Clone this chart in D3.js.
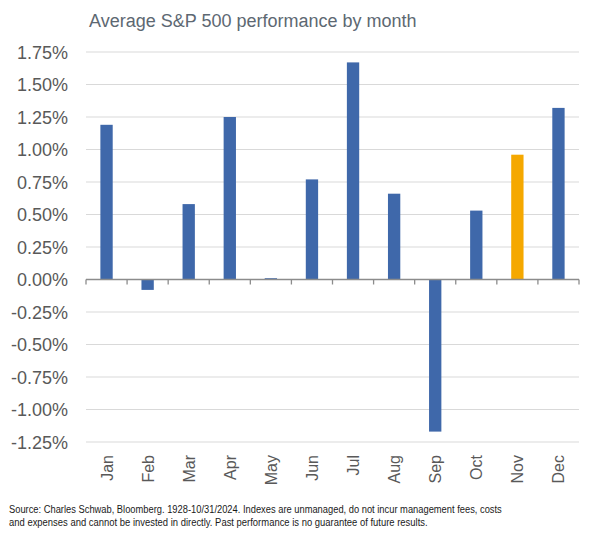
<!DOCTYPE html>
<html><head><meta charset="utf-8">
<script src="https://cdn.jsdelivr.net/npm/d3@7"></script>
<style>body{margin:0;background:#fff}svg{display:block}</style>
</head><body>
<svg id="c" width="600" height="547"></svg>
<script>
const months = ["Jan","Feb","Mar","Apr","May","Jun","Jul","Aug","Sep","Oct","Nov","Dec"];
const values = [1.19,-0.08,0.58,1.25,0.01,0.77,1.67,0.66,-1.17,0.53,0.96,1.32];
const highlight = ["Nov"];
const yTicks = [1.75,1.5,1.25,1.0,0.75,0.5,0.25,0,-0.25,-0.5,-0.75,-1.0,-1.25];
const title = "Average S&P 500 performance by month";
const footnote = [
 "Source: Charles Schwab, Bloomberg. 1928-10/31/2024. Indexes are unmanaged, do not incur management fees, costs",
 "and expenses and cannot be invested in directly. Past performance is no guarantee of future results."
];

const svg = d3.select("#c");
const L = 86, R = 579, T = 52, B = 442;
const x = d3.scaleBand().domain(months).range([L, R]).paddingInner(0.7).paddingOuter(0.35);
const xEdge = d3.scaleLinear().domain([0, 12]).range([L, R]);
const y = d3.scaleLinear().domain([-1.25, 1.75]).range([B, T]);

svg.append("text").attr("x", 89).attr("y", 27).attr("font-family", "Liberation Sans, Arial, sans-serif")
  .attr("font-size", 18).attr("fill", "#5d6872").text(title);

// gridlines
svg.append("g").selectAll("line").data(yTicks.filter(d => d !== 0)).join("line")
  .attr("x1", L).attr("x2", R).attr("y1", d => y(d)).attr("y2", d => y(d))
  .attr("stroke", "#d9d9d9").attr("stroke-width", 1);

// y labels
const yAxis = d3.axisLeft(y).tickValues(yTicks).tickSize(0).tickPadding(18)
  .tickFormat(d => d3.format(".2f")(d).replace("−","-") + "%");
const ga = svg.append("g").attr("transform", `translate(${L},0)`).call(yAxis);
ga.select(".domain").remove();
ga.selectAll("text").attr("font-family", "Liberation Sans, Arial, sans-serif")
  .attr("font-size", 18).attr("fill", "#595959").attr("dy", "0.35em");

// bars
svg.append("g").selectAll("rect").data(months).join("rect")
  .attr("x", m => x(m)).attr("width", x.bandwidth())
  .attr("y", (m, i) => y(Math.max(0, values[i])))
  .attr("height", (m, i) => Math.abs(y(values[i]) - y(0)))
  .attr("fill", m => highlight.includes(m) ? "#f5a800" : "#3f68aa");

// zero axis with ticks
const zero = svg.append("g");
zero.append("line").attr("x1", L).attr("x2", R).attr("y1", y(0)).attr("y2", y(0))
  .attr("stroke", "#8c8c8c").attr("stroke-width", 1.3);
zero.selectAll("line.t").data(d3.range(13)).join("line").attr("class", "t")
  .attr("x1", d => xEdge(d)).attr("x2", d => xEdge(d))
  .attr("y1", y(0)).attr("y2", y(0) + 5).attr("stroke", "#8c8c8c").attr("stroke-width", 1.3);

// month labels
svg.append("g").selectAll("text").data(months).join("text")
  .attr("transform", m => `translate(${x(m) + x.bandwidth() / 2 + 6},455) rotate(-90)`)
  .attr("text-anchor", "end").attr("font-family", "Liberation Sans, Arial, sans-serif")
  .attr("font-size", 16).attr("fill", "#595959").text(m => m);

// footnote (horizontally condensed to match the reference's narrow face)
const targetW = [493, 419];
svg.append("g").selectAll("text").data(footnote).join("text")
  .attr("font-family", "Liberation Sans Narrow, Liberation Sans, sans-serif")
  .attr("font-size", 11.5).attr("fill", "#1a1a1a")
  .text(d => d)
  .each(function(d, i) {
    const w = this.getComputedTextLength();
    const s = targetW[i] / w;
    d3.select(this).attr("transform", `translate(9,${513 + i * 12.5}) scale(${s},1)`);
  });
</script>
</body></html>
